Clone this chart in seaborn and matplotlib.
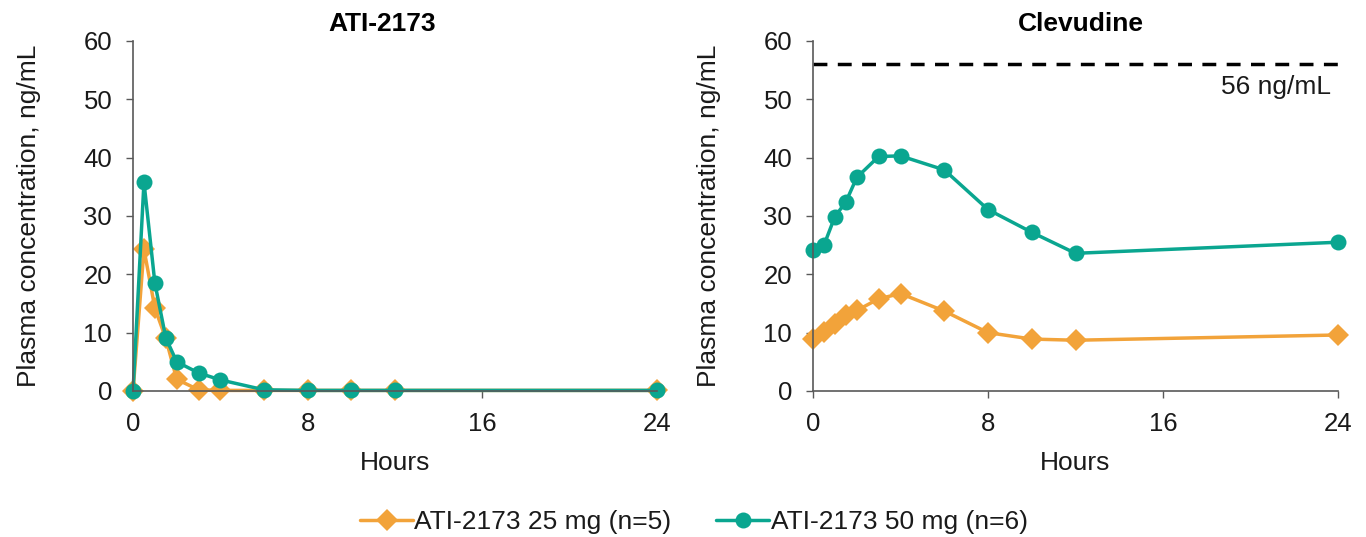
import matplotlib
matplotlib.use("Agg")
import matplotlib.pyplot as plt
import seaborn as sns
import pandas as pd

# sampling times (hours)
hours = [0, 0.5, 1, 1.5, 2, 3, 4, 6, 8, 10, 12, 24]

# ATI-2173 plasma concentrations, ng/mL
ati_25 = [0, 24.3, 14.2, 9.0, 2.0, 0.2, 0.1, 0.1, 0.1, 0.1, 0.1, 0.1]
ati_50 = [0, 35.8, 18.5, 9.1, 5.0, 3.1, 1.9, 0.2, 0.1, 0.1, 0.1, 0.1]

# Clevudine plasma concentrations, ng/mL
clv_25 = [8.9, 10.1, 11.4, 13.1, 13.8, 15.8, 16.7, 13.7, 10.0, 8.9, 8.7, 9.6]
clv_50 = [24.1, 25.0, 29.9, 32.4, 36.6, 40.2, 40.3, 37.9, 31.1, 27.2, 23.6, 25.5]

threshold = 56
groups = ["ATI-2173 25 mg (n=5)", "ATI-2173 50 mg (n=6)"]

orange = "#F2A33A"
teal = "#0AA690"

sns.set_style("white")
plt.rcParams['font.family'] = ['Liberation Sans', 'DejaVu Sans']

fs = 19

fig = plt.figure(figsize=(13.66, 5.37), dpi=100)
ax1 = fig.add_axes([0.0974, 0.2719, 0.3836, 0.6518])
ax2 = fig.add_axes([0.5952, 0.2719, 0.3843, 0.6518])

def long_table(a, b):
    return pd.DataFrame({
        "Hours": hours * 2,
        "conc": a + b,
        "group": [groups[0]] * len(hours) + [groups[1]] * len(hours),
    })

palette = {groups[0]: orange, groups[1]: teal}
markers = {groups[0]: "D", groups[1]: "o"}

for ax, a, b, title, tx in [(ax1, ati_25, ati_50, "ATI-2173", 0.475),
                            (ax2, clv_25, clv_50, "Clevudine", 0.51)]:
    df = long_table(a, b)
    sns.lineplot(data=df, x="Hours", y="conc", hue="group", style="group",
                 palette=palette, markers=markers, dashes=False,
                 linewidth=2.5, markersize=11.5, markeredgewidth=0,
                 ax=ax, legend=(ax is ax1))
    ax.set_xlim(0, 24)
    ax.set_ylim(0, 60)
    ax.set_xticks([0, 8, 16, 24])
    ax.set_yticks(range(0, 61, 10))
    ax.set_title(title, fontsize=19, fontweight="bold", pad=7, x=tx, color="black")
    ax.set_xlabel("Hours", fontsize=fs, color="#1a1a1a")
    ax.set_ylabel("Plasma concentration, ng/mL", fontsize=fs, color="#1a1a1a")
    ax.xaxis.label.set_va("center")
    ax.xaxis.set_label_coords(0.5, -0.205)
    ax.yaxis.label.set_va("center")
    ax.yaxis.set_label_coords(-0.198, 0.5)
    ax.tick_params(axis="both", labelsize=18.5, direction="out", length=5,
                   width=1, color="#595959", labelcolor="#1a1a1a",
                   left=True, bottom=True, pad=10)
    for s in ["top", "right"]:
        ax.spines[s].set_visible(False)
    for s in ["left", "bottom"]:
        ax.spines[s].set_color("#595959")
        ax.spines[s].set_linewidth(1.2)
    for line in ax.lines:
        line.set_clip_on(False)

ax2.axhline(threshold, color="black", linestyle=(0, (4, 3)), linewidth=2.5)
ax2.text(23.7, threshold - 1.8, "56 ng/mL", ha="right", va="top", fontsize=fs,
         color="#1a1a1a")

handles, labels = ax1.get_legend_handles_labels()
ax1.get_legend().remove()
fig.legend(handles, labels, loc="center", ncol=2, frameon=False,
           fontsize=fs, bbox_to_anchor=(0.508, 1 - 522 / 537), handlelength=2.0,
           handletextpad=0.05, columnspacing=1.7, labelcolor="#1a1a1a")

fig.savefig("out.png", dpi=100)
